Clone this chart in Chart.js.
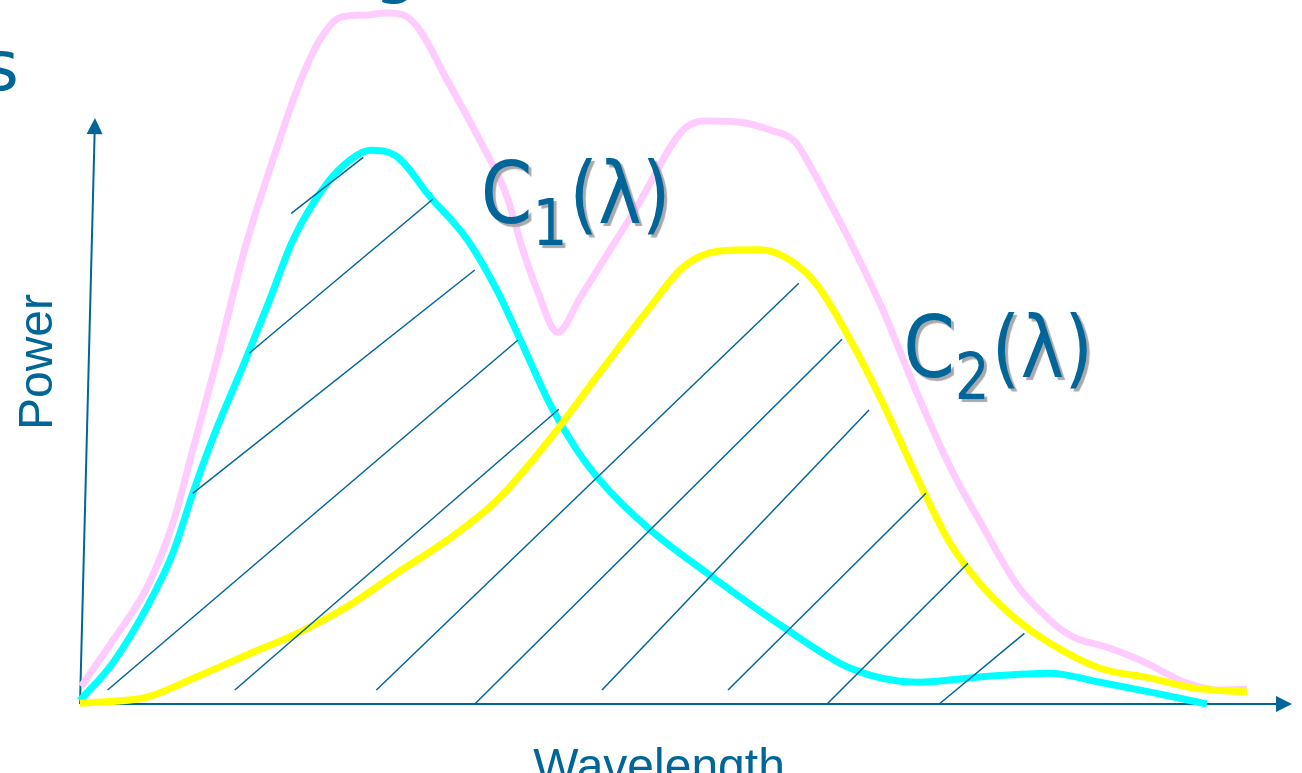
<!DOCTYPE html>
<html>
<head>
<meta charset="utf-8">
<script src="https://cdn.jsdelivr.net/npm/chart.js@4.4.1/dist/chart.umd.min.js"></script>
<style>
html,body{margin:0;padding:0;background:#fff;}
#wrap{width:1302px;height:773px;position:relative;}
</style>
</head>
<body>
<div id="wrap"><canvas id="myChart"></canvas></div>
<script>
// C1(λ) - cyan
const c1Wavelength = [0, 2.75, 5.6, 7.75, 9.4, 11.1, 13.9, 15.8, 17.75, 20.6, 22.5, 24.2, 26.25, 29.2, 32.25, 34.75, 36.7, 39.2, 41.25, 43.3, 47.5, 52.5, 58.6, 64.2, 69.75, 75.25, 80.8, 85, 89.2, 93.9];
const c1Power = [0.5, 5.9, 13.9, 21.6, 30.1, 38.1, 49.6, 57.7, 66.3, 74.4, 77.7, 79.1, 78.4, 72.4, 66.4, 59.1, 52.0, 42.7, 36.7, 32.0, 24.9, 18.4, 11.0, 5.1, 3.1, 3.9, 4.4, 3.1, 1.7, 0];

// C2(λ) - yellow
const c2Wavelength = [0, 5.6, 9.75, 13.9, 18.1, 22.25, 26.4, 30.6, 34.75, 38.9, 43.3, 47.5, 50.25, 53.3, 56.7, 59.2, 61.4, 64.2, 66.9, 69.75, 72.5, 75.25, 78.1, 80.8, 85, 89.2, 92.75, 97.25];
const c2Power = [0.1, 1.0, 3.9, 7.0, 10.1, 13.9, 18.7, 23.4, 29.1, 37.3, 47.3, 56.7, 62.4, 64.7, 64.9, 63.4, 59.9, 52.0, 43.0, 32.4, 23.0, 16.7, 12.0, 8.7, 5.1, 3.7, 2.3, 1.7];

// sum - pink
const sumWavelength = [0.1, 2.75, 5.6, 7.75, 9.4, 11.4, 13.75, 15.8, 18.3, 20.0, 21.7, 23.6, 25.6, 27.1, 28.3, 30.6, 33.3, 35.6, 36.9, 38.1, 39.8, 41.7, 42.75, 46.4, 50.25, 52.1, 55.0, 57.5, 59.6, 60.8, 62.9, 64.75, 66.9, 69.75, 72.5, 75.25, 78.1, 80.8, 82.75, 85.6, 88.3, 92.25, 95.0, 97.25];
const sumPower = [2.5, 9.1, 16.7, 25.9, 36.3, 49.1, 65.1, 76.3, 88.7, 94.9, 98.1, 98.4, 98.7, 98.3, 96.3, 89.1, 80.6, 72.4, 64.9, 59.1, 53.1, 58.1, 61.0, 71.0, 82.0, 83.3, 83.1, 82.0, 80.3, 77.0, 70.3, 64.1, 56.3, 44.4, 33.9, 25.3, 17.0, 12.0, 9.6, 8.1, 6.3, 3.0, 2.0, 2.1];

// hatch segments
const hatchX1 = [17.6, 14.1, 9.4, 2.3, 12.9, 24.7, 32.9, 43.5, 54.0, 62.25, 71.6];
const hatchY1 = [70.1, 50.1, 30.1, 2.0, 2.0, 2.0, 0, 2.0, 2.0, 0, 0];
const hatchX2 = [23.6, 29.4, 32.9, 36.5, 39.9, 59.9, 63.5, 65.75, 70.5, 74.0, 78.7];
const hatchY2 = [78.1, 72.1, 62.0, 52.0, 42.1, 60.1, 52.1, 42.0, 30.1, 20.1, 10.1];

const blue = '#006699';

function pts(xs, ys) {
  return xs.map((x, i) => ({x: x, y: ys[i]}));
}

const hatchSets = hatchX1.map((x, i) => ({
  data: [{x: x, y: hatchY1[i]}, {x: hatchX2[i], y: hatchY2[i]}],
  borderColor: blue,
  borderWidth: 1.5,
  pointRadius: 0,
  tension: 0,
  clip: false
}));

function curve(xs, ys, color) {
  return {
    data: pts(xs, ys),
    borderColor: color,
    borderWidth: 7,
    pointRadius: 0,
    cubicInterpolationMode: 'monotone',
    borderCapStyle: 'butt',
    clip: false
  };
}

// arrows + labels
const drawing = {
  id: 'drawing',
  beforeDatasetsDraw(chart) {
    const c = chart.ctx, xs = chart.scales.x, ys = chart.scales.y;
    const ox = xs.getPixelForValue(0), oy = ys.getPixelForValue(0);
    function arrow(tx, ty) {
      const dx = tx - ox, dy = ty - oy, len = Math.hypot(dx, dy);
      const ux = dx / len, uy = dy / len, head = 16, half = 8;
      c.save();
      c.strokeStyle = blue; c.fillStyle = blue; c.lineWidth = 2;
      c.beginPath();
      c.moveTo(ox, oy);
      c.lineTo(tx - ux * head, ty - uy * head);
      c.stroke();
      c.beginPath();
      c.moveTo(tx, ty);
      c.lineTo(tx - ux * head - uy * half, ty - uy * head + ux * half);
      c.lineTo(tx - ux * head + uy * half, ty - uy * head - ux * half);
      c.closePath();
      c.fill();
      c.restore();
    }
    arrow(xs.getPixelForValue(101), oy);
    arrow(xs.getPixelForValue(1.25), ys.getPixelForValue(83.7));
  },
  afterDraw(chart) {
    const c = chart.ctx, xs = chart.scales.x, ys = chart.scales.y;
    const big = '86px "DejaVu Sans", sans-serif';
    const small = '64px "DejaVu Sans", sans-serif';
    function label(wl, pw, sub) {
      let x = 0;
      c.save();
      c.translate(xs.getPixelForValue(wl), ys.getPixelForValue(pw));
      c.scale(0.86, 1);
      c.fillStyle = blue;
      c.textBaseline = 'alphabetic';
      c.shadowColor = 'rgba(160,160,160,0.9)';
      c.shadowOffsetX = 3; c.shadowOffsetY = 3; c.shadowBlur = 1;
      c.font = big;
      c.fillText('C', x, 0);
      x += c.measureText('C').width;
      c.font = small;
      c.fillText(sub, x, 22);
      x += c.measureText(sub).width + 2;
      c.font = big;
      c.fillText('(λ)', x, 0);
      c.restore();
    }
    label(33.4, 68.7, '1');
    label(68.6, 46.7, '2');

    c.save();
    c.fillStyle = blue;
    c.font = '48px "Liberation Sans", Arial, sans-serif';
    c.textAlign = 'center';
    c.fillText('Wavelength', 659, 782);
    c.translate(52, 362);
    c.rotate(-Math.PI / 2);
    c.fillText('Power', 0, 0);
    c.restore();

    // pieces of the slide title cut off by the frame
    c.save();
    c.fillStyle = blue;
    c.font = '70px "DejaVu Sans", sans-serif';
    c.textAlign = 'right';
    c.fillText('s', 19, 90);
    c.textAlign = 'center';
    c.fillText('g', 396, -10);
    c.restore();
  }
};

const ctx = document.getElementById('myChart');

new Chart(ctx, {
  type: 'line',
  data: {
    datasets: hatchSets.concat([
      curve(c2Wavelength, c2Power, '#FFFF00'),
      curve(c1Wavelength, c1Power, '#00FFFF'),
      curve(sumWavelength, sumPower, '#FFCCFF')
    ])
  },
  options: {
    responsive: true,
    maintainAspectRatio: false,
    animation: false,
    events: [],
    layout: {padding: {left: 80, right: 22, top: 4, bottom: 69}},
    plugins: {
      legend: {display: false},
      tooltip: {enabled: false}
    },
    scales: {
      x: {type: 'linear', min: 0, max: 100, display: false},
      y: {type: 'linear', min: 0, max: 100, display: false}
    }
  },
  plugins: [drawing]
});
</script>
</body>
</html>
